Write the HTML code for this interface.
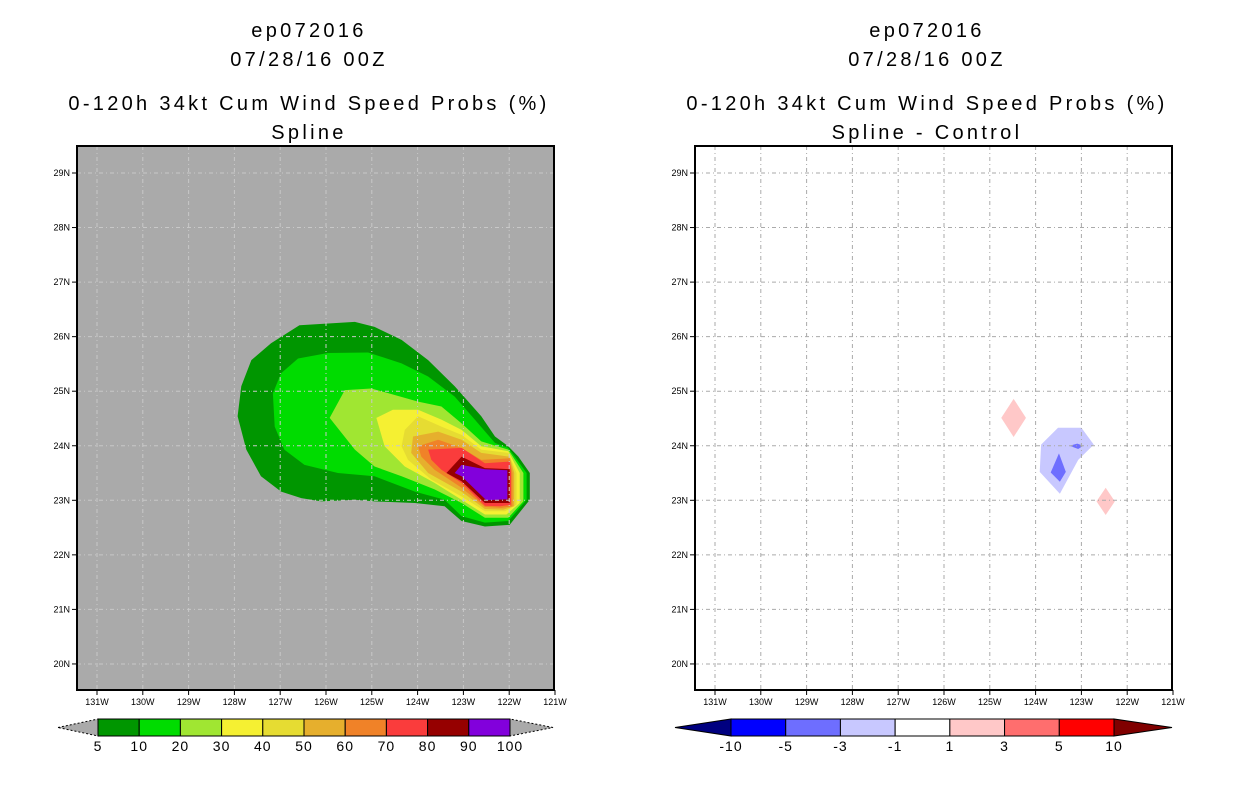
<!DOCTYPE html>
<html><head><meta charset="utf-8"><style>
body{margin:0;background:#fff;width:1236px;height:800px;overflow:hidden}
svg text{font-family:"Liberation Sans",sans-serif}
</style></head><body>
<svg id="s" width="1236" height="800" xmlns="http://www.w3.org/2000/svg"></svg>
<script>
const lonTicks=[131,130,129,128,127,126,125,124,123,122,121];
const latTicks=[29,28,27,26,25,24,23,22,21,20];
const leftLevels=["5","10","20","30","40","50","60","70","80","90","100"];
const leftColors=["#009600","#00dc00","#a0e632","#f5f032","#e6dc32","#e6af2d","#f08228","#fa3c3c","#960000","#8200dc"];
const rightLevels=["-10","-5","-3","-1","1","3","5","10"];
const rightColors=["#0000ff","#6e6eff","#c8c8ff","#ffffff","#ffc8c8","#ff6e6e","#ff0000"];
const c5=[[126.58,26.21],[125.37,26.27],[124.94,26.18],[124.35,25.94],[123.77,25.57],[123.19,25.09],[122.61,24.54],[122.31,24.17],[122.02,23.99],[121.80,23.80],[121.55,23.50],[121.55,23.01],[121.99,22.55],[122.53,22.52],[123.04,22.62],[123.41,22.89],[124.06,22.95],[124.94,22.98],[125.37,23.01],[126.10,22.98],[126.54,23.04],[126.98,23.16],[127.42,23.44],[127.74,23.93],[127.93,24.54],[127.85,25.09],[127.63,25.57],[127.20,25.88]];
const c10=[[126.61,25.60],[125.96,25.70],[125.08,25.71],[124.35,25.51],[123.77,25.27],[123.19,24.90],[122.75,24.48],[122.31,24.05],[122.02,23.96],[121.88,23.80],[121.62,23.50],[121.62,23.01],[122.02,22.62],[122.53,22.59],[123.04,22.71],[123.41,23.01],[124.06,23.16],[124.94,23.44],[125.74,23.50],[126.47,23.65],[126.91,23.93],[127.12,24.35],[127.16,24.96],[126.98,25.33]];
const c20=[[125.59,25.02],[125.01,25.05],[124.50,24.93],[123.99,24.81],[123.48,24.72],[123.04,24.41],[122.61,24.08],[122.02,23.93],[121.69,23.50],[121.69,22.98],[122.02,22.68],[122.53,22.68],[123.04,22.95],[123.63,23.20],[124.35,23.44],[124.94,23.62],[125.37,23.93],[125.92,24.51]];
const c30=[[124.90,24.51],[124.54,24.66],[123.99,24.66],[123.48,24.48],[123.04,24.29],[122.61,23.99],[122.02,23.90],[121.77,23.50],[121.77,22.95],[122.06,22.74],[122.53,22.74],[123.04,23.01],[123.63,23.32],[124.28,23.62],[124.72,23.99]];
const c40=[[124.28,24.29],[123.99,24.54],[123.48,24.35],[123.04,24.20],[122.61,23.93],[122.02,23.87],[121.84,23.50],[121.84,22.92],[122.09,22.80],[122.53,22.80],[123.04,23.07],[123.70,23.38],[124.21,23.74],[124.35,23.99]];
const c50=[[124.10,24.17],[123.55,24.26],[123.04,24.11],[122.61,23.87],[121.99,23.80],[121.89,23.50],[121.89,22.89],[122.13,22.83],[122.53,22.84],[123.04,23.16],[123.77,23.50],[124.14,23.87]];
const c60=[[123.99,23.99],[123.55,24.11],[123.04,23.96],[122.61,23.74],[121.99,23.77],[121.93,23.50],[121.93,22.89],[122.17,22.86],[122.53,22.88],[123.04,23.23],[123.63,23.56],[123.92,23.80]];
const c70=[[123.77,23.93],[123.04,23.96],[122.53,23.68],[121.99,23.71],[121.96,23.50],[121.96,22.92],[122.20,22.89],[122.53,22.90],[123.04,23.32],[123.48,23.56],[123.70,23.74]];
const c80=[[123.37,23.50],[123.04,23.80],[122.53,23.59],[121.99,23.57],[121.99,22.95],[122.53,22.95],[123.04,23.35]];
const c90=[[123.19,23.50],[123.04,23.65],[122.53,23.57],[122.04,23.55],[122.04,23.02],[122.50,23.00],[123.04,23.44]];
const leftContours=[c5,c10,c20,c30,c40,c50,c60,c70,c80,c90];
const dPos1=[[124.48,24.86],[124.21,24.51],[124.48,24.16],[124.75,24.51]];
const dPos2=[[122.47,23.23],[122.27,22.98],[122.47,22.73],[122.67,22.98]];
const dNeg3=[[123.51,24.33],[123.00,24.33],[122.73,24.02],[123.07,23.74],[123.47,23.12],[123.91,23.52],[123.88,24.02]];
const dNeg5a=[[123.49,23.86],[123.34,23.52],[123.47,23.34],[123.67,23.51]];
const dNeg5b=[[123.26,24.0],[123.09,24.04],[122.96,24.0],[123.07,23.94]];

const S=document.getElementById('s');const NS='http://www.w3.org/2000/svg';
function mk(t,a,p){const e=document.createElementNS(NS,t);for(const k in a)e.setAttribute(k,a[k]);(p||S).appendChild(e);return e;}
function panel(ox,bg,title2,contours,colors){
  const X=l=>ox+20+(131-l)*45.8, Y=v=>173+(29-v)*54.55;
  const g=mk('g',{});
  
  
  mk('rect',{x:ox,y:146,width:477,height:544,fill:bg},g);
  contours.forEach((c,i)=>{const p=mk('polygon',{points:c.map(q=>X(q[0])+','+Y(q[1])).join(' '),fill:colors[i]},g);
    
    });
  const gc=ox<300?'#c8c8c8':'#aaaaaa';
  lonTicks.forEach(l=>{if(l>121&&l<131.4)mk('line',{x1:X(l),x2:X(l),y1:146,y2:690,stroke:gc,'stroke-dasharray':'4,3,1,3'},g);
    mk('line',{x1:X(l),x2:X(l),y1:690,y2:695,stroke:'#000'},g);
    const t=mk('text',{x:X(l),y:705,'font-size':9,'text-anchor':'middle'},g);t.textContent=l+'W';
    
    });
  latTicks.forEach(v=>{mk('line',{x1:ox,x2:ox+477,y1:Y(v),y2:Y(v),stroke:gc,'stroke-dasharray':'4,3,1,3'},g);
    mk('line',{x1:ox-5,x2:ox,y1:Y(v),y2:Y(v),stroke:'#000'},g);
    const t=mk('text',{x:ox-7,y:Y(v)+3,'font-size':9,'text-anchor':'end'},g);t.textContent=v+'N';
    
    });
  mk('rect',{x:ox,y:146,width:477,height:544,fill:'none',stroke:'#000','stroke-width':2},g);
  const cx=ox+232;
  [['ep072016',37],['07/28/16 00Z',66],['0-120h 34kt Cum Wind Speed Probs (%)',110],[title2,139]].forEach(([s,y],i)=>{
    const t=mk('text',{x:cx,y:y,'font-size':20,'text-anchor':'middle','letter-spacing':'3.3'},g);t.textContent=s;
    
    });
}
panel(77,'#aaaaaa','Spline',leftContours,leftColors);
panel(695,'#ffffff','Spline - Control',[dPos1,dPos2,dNeg3,dNeg5a,dNeg5b],['#ffc8c8','#ffc8c8','#c8c8ff','#6e6eff','#6e6eff']);
function cbar(x0,x1,tri0,tri1,levels,colors,endL,endR){
  const g=mk('g',{});
  
  
  const n=colors.length,w=(x1-x0)/n,y=719,h=17;
  mk('polygon',{points:`${tri0},${y+h/2} ${x0},${y} ${x0},${y+h}`,fill:endL,stroke:'#000','stroke-dasharray':endL=='#aaaaaa'?'2,2':'none'},g);
  mk('polygon',{points:`${tri1},${y+h/2} ${x1},${y} ${x1},${y+h}`,fill:endR,stroke:'#000','stroke-dasharray':endR=='#aaaaaa'?'2,2':'none'},g);
  colors.forEach((c,i)=>mk('rect',{x:x0+i*w,y:y,width:w,height:h,fill:c,stroke:'#000'},g));
  levels.forEach((l,i)=>{const t=mk('text',{x:x0+i*w,y:751,'font-size':14,'text-anchor':'middle','letter-spacing':'1'},g);t.textContent=l;
    
    });
}
cbar(98,510,58,553,leftLevels,leftColors,'#aaaaaa','#aaaaaa');
cbar(731,1114,675,1172,rightLevels,rightColors,'#000080','#800000');
</script>
</body></html>
